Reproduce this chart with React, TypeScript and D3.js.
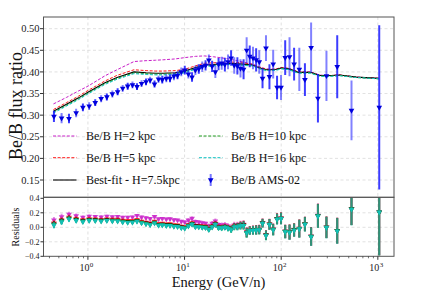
import React, { useEffect, useRef } from 'react';
import * as d3 from 'd3';

// AMS-02 Be/B (kinetic energy per nucleon, GeV/n)
const energy = [
  0.445, 0.534, 0.637, 0.755, 0.887, 1.03, 1.19, 1.37, 1.57, 1.79,
  2.03, 2.29, 2.58, 2.89, 3.22, 3.59, 3.99, 4.40, 4.89, 5.38,
  5.88, 6.47, 7.07, 7.76, 8.46, 9.25, 10.05, 10.95, 11.95, 12.94,
  14.04, 15.24, 16.49, 17.84, 19.28, 20.83, 22.48, 24.23, 26.13, 28.16,
  30.31, 32.66, 35.21, 37.91, 40.81, 43.91, 47.26, 51.06, 55.06, 59.3,
  64.1, 69.6, 75.6, 82.6, 90.6, 99.6, 110, 122, 136, 154,
  176, 204, 240, 294, 380, 534, 1034,
];
const amsRatio = [
  0.297, 0.293, 0.292, 0.305, 0.318, 0.321, 0.329, 0.338, 0.342, 0.349,
  0.354, 0.362, 0.367, 0.370, 0.366, 0.373, 0.377, 0.381, 0.372, 0.383,
  0.382, 0.385, 0.385, 0.390, 0.392, 0.400, 0.404, 0.395, 0.388, 0.404,
  0.407, 0.412, 0.415, 0.427, 0.413, 0.400, 0.418, 0.420, 0.417, 0.423,
  0.432, 0.415, 0.414, 0.408, 0.406, 0.450, 0.436, 0.432, 0.428, 0.423,
  0.385, 0.455, 0.389, 0.418, 0.364, 0.364, 0.433, 0.435, 0.418, 0.406,
  0.382, 0.456, 0.339, 0.391, 0.412, 0.311, 0.318,
];
const amsError = [
  0.013, 0.012, 0.011, 0.010, 0.009, 0.009, 0.008, 0.008, 0.008, 0.008,
  0.008, 0.008, 0.008, 0.008, 0.008, 0.008, 0.008, 0.008, 0.008, 0.008,
  0.009, 0.009, 0.009, 0.009, 0.009, 0.010, 0.010, 0.010, 0.011, 0.011,
  0.011, 0.012, 0.012, 0.013, 0.013, 0.014, 0.014, 0.015, 0.016, 0.017,
  0.018, 0.019, 0.020, 0.021, 0.023, 0.030, 0.025, 0.026, 0.027, 0.027,
  0.023, 0.030, 0.029, 0.033, 0.027, 0.029, 0.040, 0.045, 0.038, 0.050,
  0.038, 0.058, 0.056, 0.058, 0.073, 0.069, 0.190,
];

// model predictions
const modelEnergy = [
  0.44, 0.6, 0.8, 1, 1.5, 2, 3, 4, 5, 6, 8, 10, 13, 16, 20, 25,
  30, 40, 50, 60, 70, 80, 90, 100, 120, 150, 200, 250, 300, 400, 600, 1030,
];
const modelH2 = [
  0.326, 0.341, 0.356, 0.367, 0.391, 0.405, 0.424, 0.426, 0.427, 0.428, 0.430, 0.433, 0.436, 0.437, 0.435, 0.432,
  0.429, 0.423, 0.418, 0.411, 0.407, 0.406, 0.407, 0.410, 0.408, 0.400, 0.400, 0.393, 0.391, 0.393, 0.388, 0.385,
];
const modelH5 = [
  0.313, 0.329, 0.344, 0.357, 0.379, 0.392, 0.405, 0.403, 0.402, 0.402, 0.403, 0.406, 0.414, 0.420, 0.421, 0.422,
  0.423, 0.421, 0.418, 0.411, 0.406, 0.406, 0.407, 0.410, 0.408, 0.400, 0.399, 0.392, 0.391, 0.393, 0.388, 0.385,
];
const bestFit = [
  0.309, 0.325, 0.340, 0.353, 0.375, 0.387, 0.400, 0.398, 0.397, 0.397, 0.398, 0.402, 0.410, 0.416, 0.417, 0.419,
  0.420, 0.418, 0.416, 0.409, 0.405, 0.405, 0.406, 0.409, 0.407, 0.399, 0.399, 0.392, 0.391, 0.393, 0.388, 0.385,
];
const modelH10 = [
  0.307, 0.323, 0.338, 0.351, 0.373, 0.385, 0.398, 0.396, 0.395, 0.395, 0.396, 0.400, 0.408, 0.414, 0.415, 0.417,
  0.418, 0.416, 0.415, 0.408, 0.404, 0.404, 0.405, 0.408, 0.406, 0.398, 0.398, 0.391, 0.390, 0.392, 0.387, 0.384,
];
const modelH16 = [
  0.305, 0.321, 0.336, 0.349, 0.371, 0.383, 0.396, 0.394, 0.393, 0.393, 0.394, 0.398, 0.406, 0.412, 0.414, 0.416,
  0.417, 0.415, 0.414, 0.407, 0.403, 0.403, 0.404, 0.407, 0.405, 0.397, 0.397, 0.390, 0.389, 0.391, 0.387, 0.384,
];

const yTicks = [0.15, 0.2, 0.25, 0.3, 0.35, 0.4, 0.45, 0.5];
const residTicks = [-0.4, -0.2, 0, 0.2, 0.4];
const xTicks = [1, 10, 100, 1000];

const models = [
  { label: 'Be/B H=2 kpc', values: modelH2, color: '#c81ec8', dash: '3,1.6' },
  { label: 'Be/B H=5 kpc', values: modelH5, color: '#ff1a1a', dash: '3,1.6' },
  { label: 'Best-fit - H=7.5kpc', values: bestFit, color: '#000000', dash: null },
  { label: 'Be/B H=10 kpc', values: modelH10, color: '#1f9a1f', dash: '3,1.6' },
  { label: 'Be/B H=16 kpc', values: modelH16, color: '#12c4c4', dash: '3,1.6' },
];

const W = 438;
const H = 295;
const FONT = 'Liberation Serif, Times New Roman, DejaVu Serif, serif';

const App: React.FC = () => {
  const svgRef = useRef<SVGSVGElement>(null);

  useEffect(() => {
    if (!svgRef.current) return;
    const svg = d3.select(svgRef.current);
    svg.selectAll('*').remove();

    const left = 43.5, right = 394, top = 17, mid = 197.3, bottom = 256.3;

    const x = d3.scaleLog().domain([0.347, 1470]).range([left, right]);
    const y = d3.scaleLinear().domain([0.11, 0.527]).range([mid, top]);
    const yr = d3.scaleLinear().domain([-0.4, 0.4]).range([bottom, 198.3]);

    const defs = svg.append('defs');
    defs.append('clipPath').attr('id', 'clip-main')
      .append('rect').attr('x', left).attr('y', top).attr('width', right - left).attr('height', mid - top);
    defs.append('clipPath').attr('id', 'clip-res')
      .append('rect').attr('x', left).attr('y', mid).attr('width', right - left).attr('height', bottom - mid);

    // grid
    const grid = svg.append('g').attr('stroke', '#d9d9d9').attr('stroke-width', 0.8).attr('stroke-dasharray', '3,2.5');
    xTicks.forEach(t => {
      grid.append('line').attr('x1', x(t)).attr('x2', x(t)).attr('y1', top).attr('y2', bottom);
    });
    yTicks.forEach(t => {
      grid.append('line').attr('x1', left).attr('x2', right).attr('y1', y(t)).attr('y2', y(t));
    });
    residTicks.slice(1, -1).forEach(t => {
      grid.append('line').attr('x1', left).attr('x2', right).attr('y1', yr(t)).attr('y2', yr(t));
    });

    const tri = d3.symbol().type(d3.symbolTriangle).size(14)();

    // main panel
    const main = svg.append('g').attr('clip-path', 'url(#clip-main)');

    const line = d3.line<number>()
      .x((_, i) => x(modelEnergy[i]))
      .y(d => y(d));

    models.forEach(m => {
      main.append('path')
        .attr('d', line(m.values) || '')
        .attr('fill', 'none')
        .attr('stroke', m.color)
        .attr('stroke-width', m.dash ? 1 : 1.1)
        .attr('stroke-dasharray', m.dash || null);
    });

    const pts = main.append('g');
    energy.forEach((e, i) => {
      pts.append('line')
        .attr('x1', x(e)).attr('x2', x(e))
        .attr('y1', y(amsRatio[i] - amsError[i])).attr('y2', y(amsRatio[i] + amsError[i]))
        .attr('stroke', '#1a1aff').attr('stroke-opacity', i % 2 ? 0.55 : 0.85).attr('stroke-width', 2);
    });
    energy.forEach((e, i) => {
      pts.append('path').attr('d', tri)
        .attr('transform', `translate(${x(e)},${y(amsRatio[i])}) rotate(180)`)
        .attr('fill', '#0000dd');
    });

    // residuals: (model - data) / data
    const res = svg.append('g').attr('clip-path', 'url(#clip-res)');
    models.forEach(m => {
      const at = d3.scaleLog().domain(modelEnergy).range(m.values).clamp(true);
      const g = res.append('g');
      energy.forEach((e, i) => {
        const r = (at(e) - amsRatio[i]) / amsRatio[i];
        const er = amsError[i] / amsRatio[i];
        g.append('line')
          .attr('x1', x(e)).attr('x2', x(e))
          .attr('y1', yr(r - er)).attr('y2', yr(r + er))
          .attr('stroke', m.color).attr('stroke-opacity', 0.5).attr('stroke-width', 2);
        g.append('path').attr('d', tri)
          .attr('transform', `translate(${x(e)},${yr(r)}) rotate(180)`)
          .attr('fill', m.color).attr('fill-opacity', 0.85);
      });
    });

    // frames
    const frame = svg.append('g').attr('fill', 'none').attr('stroke', '#555').attr('stroke-width', 1);
    frame.append('rect').attr('x', left).attr('y', top).attr('width', right - left).attr('height', mid - top);
    frame.append('rect').attr('x', left).attr('y', mid).attr('width', right - left).attr('height', bottom - mid);

    // y axis main
    const ya = svg.append('g').style('font-family', FONT).style('font-size', '10.5px').attr('fill', '#222');
    yTicks.forEach(t => {
      ya.append('line').attr('x1', left - 3.5).attr('x2', left).attr('y1', y(t)).attr('y2', y(t)).attr('stroke', '#333');
      ya.append('text').attr('x', left - 4).attr('y', y(t)).attr('dy', '0.35em')
        .attr('text-anchor', 'end').text(d3.format('.2f')(t));
    });

    // y axis residuals
    const ra = svg.append('g').style('font-family', FONT).style('font-size', '8px').attr('fill', '#222');
    residTicks.forEach(t => {
      ra.append('line').attr('x1', left - 3).attr('x2', left).attr('y1', yr(t)).attr('y2', yr(t)).attr('stroke', '#333');
      ra.append('text').attr('x', left - 4).attr('y', yr(t)).attr('dy', '0.35em')
        .attr('text-anchor', 'end').text(d3.format('.1f')(t).replace('-', '\u2212'));
    });

    // x axis (bottom)
    const xa = svg.append('g').style('font-family', FONT).attr('fill', '#222');
    const minor: number[] = [];
    [0.1, 1, 10, 100, 1000].forEach(d => {
      for (let k = 2; k <= 9; k++) {
        const v = d * k;
        if (v > 0.347 && v < 1470) minor.push(v);
      }
    });
    minor.forEach(v => {
      xa.append('line').attr('x1', x(v)).attr('x2', x(v)).attr('y1', bottom).attr('y2', bottom + 2)
        .attr('stroke', '#333').attr('stroke-width', 0.7);
    });
    xTicks.forEach((t, i) => {
      xa.append('line').attr('x1', x(t)).attr('x2', x(t)).attr('y1', bottom).attr('y2', bottom + 3.5).attr('stroke', '#333');
      xa.append('text').attr('x', x(t) + 1.5).attr('y', 271).attr('text-anchor', 'end')
        .style('font-size', '10px').text('10');
      xa.append('text').attr('x', x(t) + 1.8).attr('y', 266.5).attr('text-anchor', 'start')
        .style('font-size', '7px').text(String(i));
    });

    // axis titles
    svg.append('text')
      .attr('transform', `translate(22, 106) rotate(-90)`)
      .attr('text-anchor', 'middle').style('font-family', FONT).style('font-size', '18px').attr('fill', '#111')
      .text('Be/B flux ratio');
    svg.append('text')
      .attr('transform', `translate(19, 227) rotate(-90)`)
      .attr('text-anchor', 'middle').style('font-family', FONT).style('font-size', '10px').attr('fill', '#111')
      .text('Residuals');
    svg.append('text')
      .attr('x', 218.5).attr('y', 287)
      .attr('text-anchor', 'middle').style('font-family', FONT).style('font-size', '14.5px').attr('fill', '#111')
      .text('Energy (GeV/n)');

    // legend
    const leg = svg.append('g').style('font-family', FONT).style('font-size', '12px').attr('fill', '#111');
    const rows = [136, 157.7, 180];
    const cols = [{ lx: 53, tx: 86 }, { lx: 199, tx: 231 }];
    const entries = [...models, { label: 'Be/B AMS-02', values: [], color: '#0000dd', dash: null }];
    entries.forEach((ent, k) => {
      const c = cols[k < 3 ? 0 : 1];
      const ry = rows[k % 3];
      if (k === 5) {
        leg.append('line').attr('x1', c.lx + 11.7).attr('x2', c.lx + 11.7).attr('y1', ry - 6).attr('y2', ry + 6)
          .attr('stroke', '#1a1aff').attr('stroke-opacity', 0.6).attr('stroke-width', 2);
        leg.append('path').attr('d', tri).attr('transform', `translate(${c.lx + 11.7},${ry}) rotate(180)`).attr('fill', '#0000dd');
      } else {
        leg.append('line').attr('x1', c.lx).attr('x2', c.lx + 23.5).attr('y1', ry).attr('y2', ry)
          .attr('stroke', ent.color).attr('stroke-width', ent.dash ? 1 : 1.1)
          .attr('stroke-dasharray', ent.dash || null);
      }
      leg.append('text').attr('x', c.tx).attr('y', ry).attr('dy', '0.35em').text(ent.label);
    });
  }, []);

  return (
    <svg ref={svgRef} width={W} height={H}
      style={{ position: 'absolute', left: 0, top: 0, background: '#fff' }} />
  );
};

export default App;
